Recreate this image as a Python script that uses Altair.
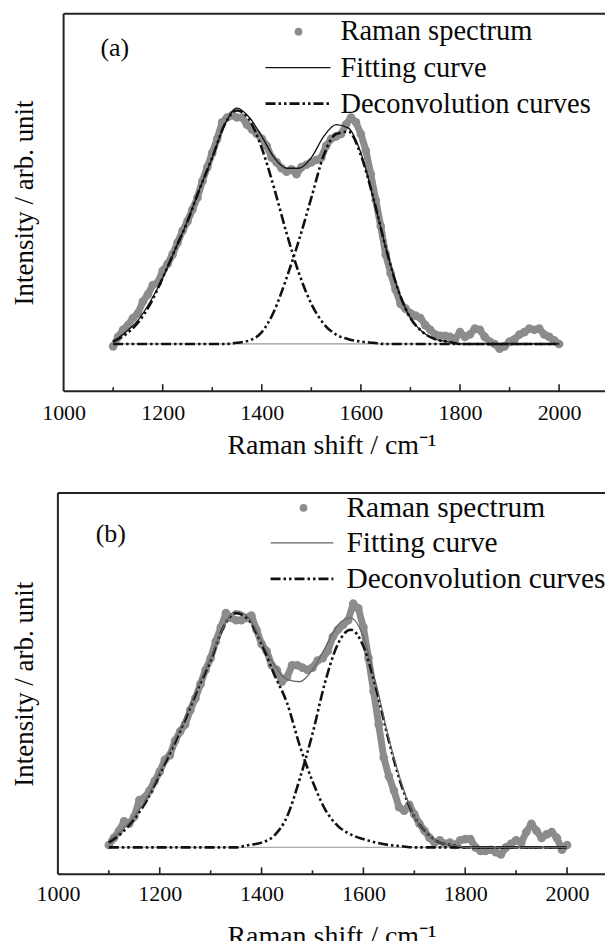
import altair as alt
import pandas as pd

# ---------------- data ----------------
SPEC_X = list(range(1100, 2001, 10))

SPEC_A = [-0.01, 0.03, 0.06, 0.08, 0.11, 0.13, 0.18, 0.21, 0.25, 0.26,
          0.31, 0.34, 0.38, 0.43, 0.48, 0.52, 0.57, 0.62, 0.69, 0.75,
          0.81, 0.87, 0.94, 0.96, 0.97, 0.96, 0.96, 0.93, 0.91, 0.89,
          0.87, 0.84, 0.79, 0.77, 0.745, 0.73, 0.74, 0.72, 0.75, 0.76,
          0.77, 0.78, 0.79, 0.84, 0.87, 0.88, 0.89, 0.93, 0.96, 0.94,
          0.89, 0.82, 0.72, 0.61, 0.50, 0.38, 0.30, 0.23, 0.17, 0.15,
          0.13, 0.12, 0.11, 0.08, 0.06, 0.04, 0.035, 0.035, 0.03, 0.02,
          0.05, 0.03, 0.04, 0.065, 0.06, 0.03, 0.01, 0.0, -0.02, -0.01,
          0.01, 0.02, 0.04, 0.05, 0.065, 0.06, 0.065, 0.04, 0.03, 0.015,
          0.0]

SPEC_B = [0.01, 0.04, 0.07, 0.11, 0.10, 0.13, 0.20, 0.21, 0.24, 0.28,
          0.32, 0.37, 0.39, 0.45, 0.49, 0.52, 0.58, 0.63, 0.69, 0.75,
          0.80, 0.87, 0.93, 0.99, 0.97, 0.96, 0.96, 0.97, 0.98, 0.92,
          0.86, 0.83, 0.77, 0.75, 0.70, 0.72, 0.77, 0.77, 0.76, 0.75,
          0.76, 0.79, 0.80, 0.83, 0.89, 0.92, 0.94, 0.96, 1.03, 1.01,
          0.93, 0.80, 0.66, 0.52, 0.38, 0.30, 0.24, 0.17, 0.155, 0.18,
          0.14, 0.10, 0.07, 0.04, 0.02, 0.03, 0.015, 0.02, 0.01, 0.03,
          0.035, 0.035, 0.0, -0.015, -0.015, -0.01, -0.02, -0.03, 0.0, 0.015,
          0.03, 0.02, 0.065, 0.10, 0.07, 0.04, 0.055, 0.065, 0.04, -0.01,
          0.01]

CURVE_X = [1100, 1125, 1150, 1175, 1200, 1225, 1250, 1275, 1300, 1325,
           1350, 1375, 1400, 1425, 1450, 1475, 1500, 1525, 1550, 1575,
           1600, 1625, 1650, 1675, 1700, 1725, 1750, 1775, 1800, 1900, 2000]

FIT_A = [0.01, 0.05, 0.10, 0.18, 0.28, 0.40, 0.52, 0.66, 0.79, 0.93,
         1.00, 0.96, 0.88, 0.79, 0.745, 0.745, 0.79, 0.88, 0.93, 0.915,
         0.81, 0.62, 0.41, 0.23, 0.11, 0.05, 0.02, 0.01, 0.0, 0.0, 0.0]
D_A = [0.01, 0.04, 0.09, 0.17, 0.28, 0.40, 0.52, 0.66, 0.79, 0.93,
       0.99, 0.95, 0.83, 0.66, 0.47, 0.30, 0.17, 0.085, 0.04, 0.02,
       0.01, 0.005, 0.0, 0.0, 0.0, 0.0, 0.0, 0.0, 0.0, 0.0, 0.0]
G_A = [0.0, 0.0, 0.0, 0.0, 0.0, 0.0, 0.0, 0.0, 0.0, 0.0,
       0.005, 0.015, 0.05, 0.14, 0.28, 0.44, 0.62, 0.80, 0.89, 0.90,
       0.80, 0.62, 0.41, 0.23, 0.11, 0.05, 0.02, 0.01, 0.0, 0.0, 0.0]

FIT_B = [0.03, 0.07, 0.13, 0.21, 0.32, 0.43, 0.55, 0.68, 0.80, 0.93,
         1.00, 0.97, 0.87, 0.77, 0.71, 0.70, 0.75, 0.845, 0.94, 0.97,
         0.89, 0.69, 0.46, 0.27, 0.13, 0.06, 0.02, 0.01, 0.0, 0.0, 0.0]
D_B = [0.02, 0.06, 0.12, 0.20, 0.31, 0.42, 0.54, 0.67, 0.79, 0.93,
       0.99, 0.96, 0.86, 0.73, 0.61, 0.43, 0.28, 0.16, 0.09, 0.055,
       0.035, 0.02, 0.01, 0.005, 0.0, 0.0, 0.0, 0.0, 0.0, 0.0, 0.0]
G_B = [0.0, 0.0, 0.0, 0.0, 0.0, 0.0, 0.0, 0.0, 0.0, 0.0,
       0.0, 0.01, 0.02, 0.05, 0.13, 0.29, 0.48, 0.70, 0.86, 0.92,
       0.85, 0.67, 0.45, 0.26, 0.13, 0.06, 0.02, 0.01, 0.0, 0.0, 0.0]

BASELINE = [1100, 2000]
XTICK_LABELS = [1000, 1200, 1400, 1600, 1800, 2000]
MAJOR_TICKS = [1200, 1400, 1600, 1800, 2000]
MINOR_TICKS = [1100, 1300, 1500, 1700, 1900]
LEGEND_LABELS = ["Raman spectrum", "Fitting curve", "Deconvolution curves"]
PANEL_LABELS = ["(a)", "(b)"]
X_TITLE = "Raman shift / cm\u207b\u00b9"
Y_TITLE = "Intensity / arb. unit"

FONT = "Liberation Serif"
W = 548
DASH = [10, 3, 2.5, 3, 2.5, 3]
GRAY = "#8c8c8c"
INK = "#0a0a0a"


def panel(spec_y, fit_y, d_y, g_y, xdom, ydom, h, label, lab_xy,
          leg, leg_size, fit_color, base_color, lab_pad, title_pad):
    xs = alt.Scale(domain=xdom, nice=False, zero=False)
    ys = alt.Scale(domain=ydom, nice=False, zero=False)
    xax = alt.Axis(values=XTICK_LABELS, format="d", ticks=False, tickSize=0,
                   domain=False, grid=False, labelFlush=False, labelOverlap=False,
                   labelFont=FONT, labelFontSize=22, labelColor=INK,
                   labelPadding=lab_pad, title=X_TITLE, titleFont=FONT,
                   titleFontSize=28, titleFontWeight="normal", titleColor=INK,
                   titlePadding=title_pad)
    yax = alt.Axis(labels=False, ticks=False, tickSize=0, domain=False, grid=False,
                   title=Y_TITLE, titleFont=FONT, titleFontSize=27,
                   titleFontWeight="normal", titleColor=INK, titlePadding=19)
    X = alt.X("x:Q", scale=xs, axis=xax)
    Y = alt.Y("y:Q", scale=ys, axis=yax)

    spec_df = pd.DataFrame({"x": SPEC_X, "y": spec_y})
    fit_df = pd.DataFrame({"x": CURVE_X, "y": fit_y})
    dec_df = pd.concat([
        pd.DataFrame({"x": CURVE_X, "y": d_y, "c": "D"}),
        pd.DataFrame({"x": CURVE_X, "y": g_y, "c": "G"}),
    ])
    base_df = pd.DataFrame({"x": BASELINE, "y": [0, 0]})

    band = alt.Chart(spec_df).mark_line(color=GRAY, strokeWidth=7, strokeJoin="round",
                                        strokeCap="round").encode(x=X, y=Y)
    pts = alt.Chart(spec_df).mark_circle(size=75, color=GRAY, opacity=1).encode(x=X, y=Y)
    base = alt.Chart(base_df).mark_line(color=base_color, strokeWidth=1.2).encode(x=X, y=Y)
    dec = alt.Chart(dec_df).mark_line(color="#111", strokeWidth=2.6, strokeDash=DASH,
                                      interpolate="monotone").encode(x=X, y=Y, detail="c:N")
    fit = alt.Chart(fit_df).mark_line(color=fit_color, strokeWidth=1.3,
                                      interpolate="monotone").encode(x=X, y=Y)

    major = alt.Chart(pd.DataFrame({"x": MAJOR_TICKS})).mark_rule(
        color="#222", strokeWidth=1.6).encode(x=X, y=alt.value(h), y2=alt.value(h - 7))
    minor = alt.Chart(pd.DataFrame({"x": MINOR_TICKS})).mark_rule(
        color="#222", strokeWidth=1.6).encode(x=X, y=alt.value(h), y2=alt.value(h - 4))

    frame_left = alt.Chart().mark_rule(color="#222", strokeWidth=2).encode(
        x=alt.datum(1000), y=alt.value(0), y2=alt.value(h))
    frame_top = alt.Chart().mark_rule(color="#222", strokeWidth=2).encode(
        x=alt.datum(1000), x2=alt.value(W), y=alt.value(0))
    frame_bot = alt.Chart().mark_rule(color="#222", strokeWidth=2).encode(
        x=alt.datum(1000), x2=alt.value(W), y=alt.value(h))

    (dot_x, dot_y), (l1, l2), tx, rows = leg
    leg_dot = alt.Chart().mark_circle(size=60, color=GRAY, opacity=1).encode(
        x=alt.value(dot_x), y=alt.value(dot_y))
    leg_fit = alt.Chart().mark_rule(color=fit_color, strokeWidth=1.3).encode(
        x=alt.value(l1), x2=alt.value(l2), y=alt.value(rows[1]))
    leg_dec = alt.Chart().mark_rule(color="#111", strokeWidth=2.6, strokeDash=DASH).encode(
        x=alt.value(l1), x2=alt.value(l2), y=alt.value(rows[2]))
    texts = [
        alt.Chart().mark_text(text=t, font=FONT, fontSize=leg_size, align="left",
                              baseline="middle", color=INK).encode(
            x=alt.value(tx), y=alt.value(r))
        for t, r in zip(LEGEND_LABELS, rows)
    ]
    lab = alt.Chart().mark_text(text=label, font=FONT, fontSize=26, align="center",
                                baseline="middle", color=INK).encode(
        x=alt.value(lab_xy[0]), y=alt.value(lab_xy[1]))

    return alt.layer(band, pts, base, dec, fit, major, minor, frame_left, frame_top,
                     frame_bot, leg_dot, leg_fit, leg_dec, *texts, lab).properties(
        width=W, height=h)


top = panel(SPEC_A, FIT_A, D_A, G_A, [988.5, 988.5 + W / 0.4963], [-0.20, 1.40], 378,
            PANEL_LABELS[0], (57, 34),
            ((241, 18), (208, 273), 283, [17, 54, 90]), 28.5, "#111", "#999", 11, 8.5)
bottom = panel(SPEC_B, FIT_B, D_B, G_B, [1000, 1000 + W / 0.51], [-0.114, 1.498], 382,
               PANEL_LABELS[1], (53, 41),
               ((246, 15), (213, 276), 289, [15, 50, 86]), 29.5, "#666", "#aaa", 9, 18.5)

chart = alt.vconcat(top, bottom, spacing=32).properties(
    padding={"left": 11, "top": 12, "right": 0, "bottom": 0},
    background="white",
).configure_view(stroke=None)

chart.save("out.html", embed_options={"renderer": "svg", "actions": False})
